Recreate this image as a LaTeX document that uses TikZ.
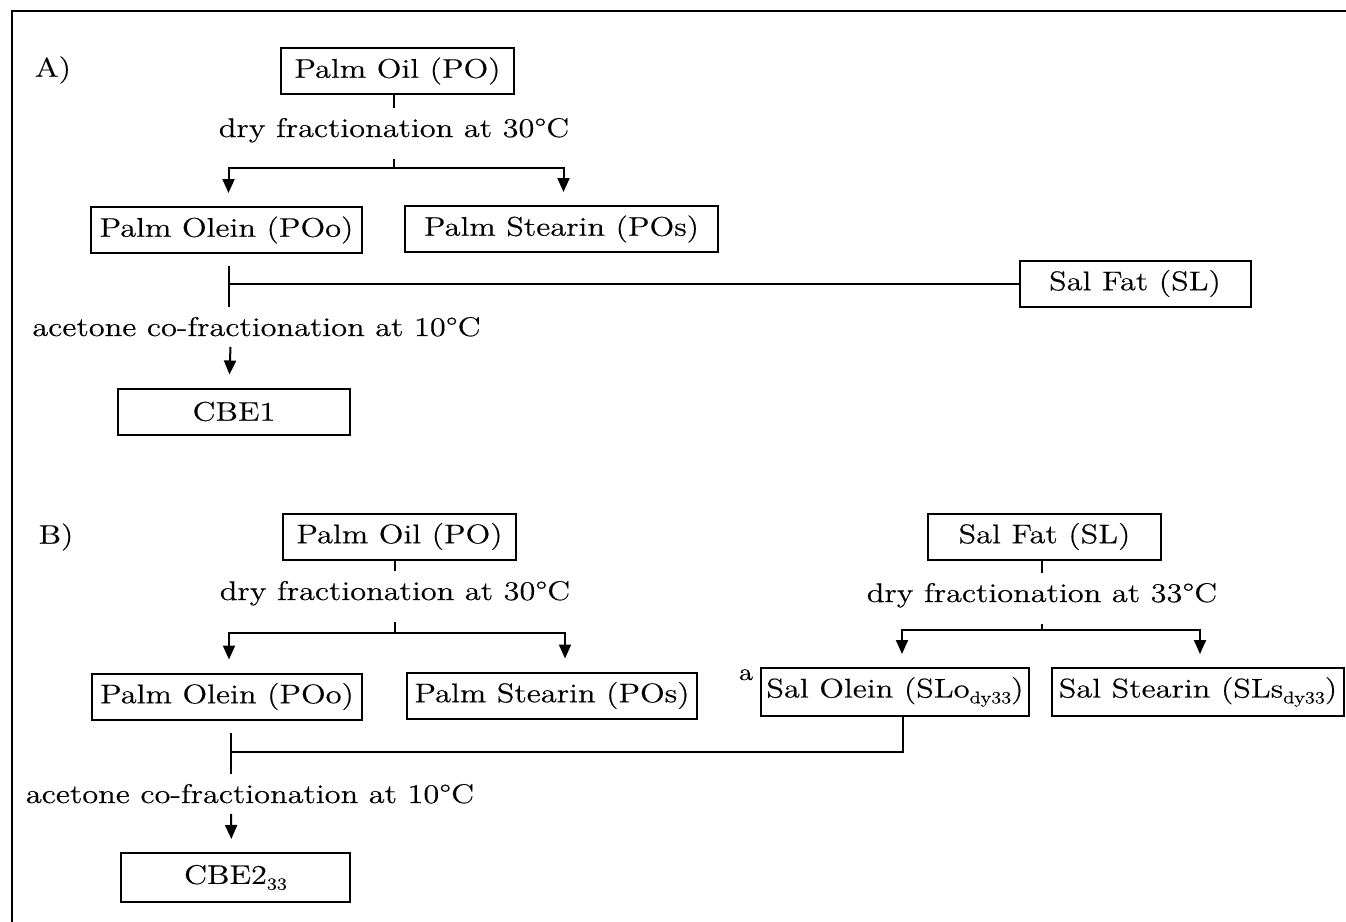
\documentclass[tikz,border=0pt]{standalone}
\usepackage{fontspec}
\setmainfont{lmroman12-regular.otf}[FakeStretch=1.2, FakeBold=0.4]
\usetikzlibrary{arrows.meta, positioning, calc}
\newcommand\lowsub[1]{\raisebox{-0.5ex}{\fontsize{8.5}{9}\selectfont #1}}
\tikzset{
    base/.style={font=\fontsize{13.5}{16}\selectfont, align=center},
    block/.style={base, draw=black, line width=1pt, rectangle, minimum height=23pt, inner sep=2pt},
    treat/.style={base, inner xsep=0pt, inner ysep=5pt, anchor=base},
    line/.style={draw=black, line width=1pt},
    arrow/.style={line, -{Triangle[length=7pt, width=6pt]}, shorten >=6.5pt}
}
\begin{document}
\begin{tikzpicture}[x=0.5pt, y=-0.5pt]
    \useasboundingbox (0,0) rectangle (1346,922);
    \draw [line width=1pt] (1346,11) -- (12,11) -- (12,922);

    % A)
    \node [base] (labA) at (53,70) {A)};
    \node [block, minimum width=116.5pt] (poA) at (397.5,71) {Palm Oil (PO)};
    \node [treat] (dfA) at (394,137) {dry fractionation at 30\textdegree C};
    \node [block, minimum width=135.5pt] (poliA) at (226.5,230) {Palm Olein (POo)};
    \node [block, minimum width=156.5pt] (postA) at (561.5,229) {Palm Stearin (POs)};
    \node [block, minimum width=115.5pt] (slA) at (1135,283.5) {Sal Fat (SL)};
    \node [treat] (acA) at (256.5,336) {acetone co-fractionation at 10\textdegree C};
    \node [block, minimum width=116pt] (cbeA) at (234,411.5) {CBE1};
    \coordinate (forkA) at (394,168);
    \coordinate (downA) at ($(poliA.south)+(2.5,12)$);

    \draw [line] (dfA.north) -- (dfA.north |- poA.south);
    \draw [line] ([yshift=-3pt]dfA.south) -- (dfA.south |- forkA);
    \draw [arrow] (forkA) -| ([xshift=1pt]poliA.north);
    \draw [arrow] (forkA) -| ([xshift=1pt]postA.north);
    \draw [line] (downA) -- (downA |- acA.north);
    \draw [line] (slA.west) -- (slA.west -| downA);
    \draw [arrow] ([xshift=-13pt]acA.south) -- ([xshift=-2.5pt]cbeA.north);

    % B)
    \node [base] (labB) at (56,537) {B)};
    \node [block, minimum width=116.5pt] (poB) at (399.5,536.5) {Palm Oil (PO)};
    \node [treat] (dfB) at (395,600) {dry fractionation at 30\textdegree C};
    \node [block, minimum width=135pt] (poliB) at (227,696.5) {Palm Olein (POo)};
    \node [block, minimum width=145pt] (postB) at (552,695.5) {Palm Stearin (POs)};
    \node [treat] (acB) at (250,803) {acetone co-fractionation at 10\textdegree C};
    \node [block, minimum width=114.5pt, minimum height=24.5pt] (cbeB) at (235.5,877.5) {CBE2\lowsub{33}};
    \coordinate (forkB) at (395,633);
    \coordinate (downB) at ($(poliB.south)+(4,12)$);

    \node [block, minimum width=116.5pt] (slB) at (1044.5,536.5) {Sal Fat (SL)};
    \node [treat] (dfS) at (1042,602) {dry fractionation at 33\textdegree C};
    \node [block, minimum width=134pt, minimum height=24pt] (sloB) at (895,692) {Sal Olein (SLo\lowsub{dy33})};
    \node [block, minimum width=146pt, minimum height=24pt] (slsB) at (1198,692) {Sal Stearin (SLs\lowsub{dy33})};
    \node [base, font=\fontsize{12}{14}\selectfont, anchor=base] (noteB) at (746,680) {a};
    \coordinate (forkS) at (1042,630);
    \coordinate (joinB) at (231,752);

    \draw [line] (dfB.north) -- (dfB.north |- poB.south);
    \draw [line] ([yshift=-3pt]dfB.south) -- (dfB.south |- forkB);
    \draw [arrow] (forkB) -| ([xshift=1pt]poliB.north);
    \draw [arrow] (forkB) -| ([xshift=6.5pt]postB.north);
    \draw [line] (dfS.north) -- (dfS.north |- slB.south);
    \draw [line] ([yshift=-3pt]dfS.south) -- (dfS.south |- forkS);
    \draw [arrow] (forkS) -| ([xshift=3.5pt]sloB.north);
    \draw [arrow] (forkS) -| ([xshift=1pt]slsB.north);
    \draw [line] (downB) -- (downB |- acB.north);
    \draw [line] ([xshift=4pt]sloB.south) |- (joinB);
    \draw [arrow] ([xshift=-9.5pt]acB.south) -- ([xshift=-2pt]cbeB.north);
\end{tikzpicture}
\end{document}
